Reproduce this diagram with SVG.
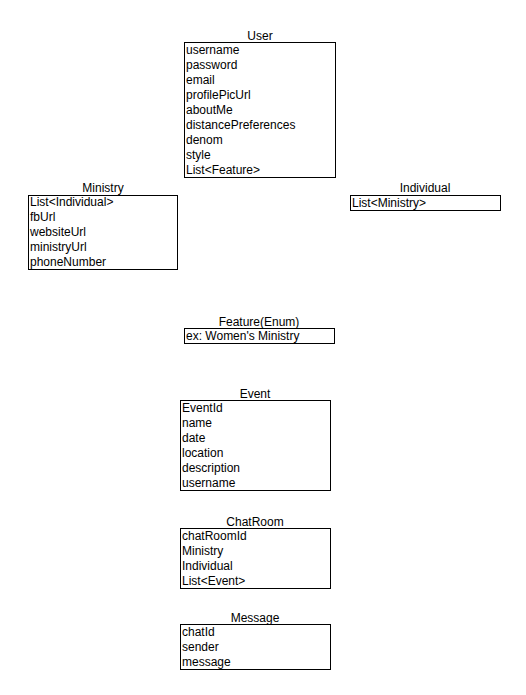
<svg xmlns="http://www.w3.org/2000/svg" width="526" height="695" viewBox="0 0 526 695">
<style>
rect.box{fill:#fff;stroke:#000;stroke-width:1}
text{font-family:"Liberation Sans",Arial,sans-serif;font-size:12px;fill:#000}
text.t{text-anchor:middle}
</style>
<rect width="526" height="695" fill="#fff"/>
<g id="connectors"></g>
<g id="user">
<text class="t" x="260" y="40">User</text>
<rect class="box" x="184.5" y="42.5" width="151" height="135"/>
<text x="186" y="54">username</text>
<text x="186" y="69">password</text>
<text x="186" y="84">email</text>
<text x="186" y="99">profilePicUrl</text>
<text x="186" y="114">aboutMe</text>
<text x="186" y="129">distancePreferences</text>
<text x="186" y="144">denom</text>
<text x="186" y="159">style</text>
<text x="186" y="174">List&lt;Feature&gt;</text>
</g>
<g id="ministry">
<text class="t" x="103" y="192">Ministry</text>
<rect class="box" x="28.5" y="195.5" width="149" height="74"/>
<text x="30" y="206">List&lt;Individual&gt;</text>
<text x="30" y="221">fbUrl</text>
<text x="30" y="236">websiteUrl</text>
<text x="30" y="251">ministryUrl</text>
<text x="30" y="266">phoneNumber</text>
</g>
<g id="individual">
<text class="t" x="425" y="192">Individual</text>
<rect class="box" x="350.5" y="195.5" width="150" height="15"/>
<text x="352" y="207">List&lt;Ministry&gt;</text>
</g>
<g id="feature">
<text class="t" x="259" y="326">Feature(Enum)</text>
<rect class="box" x="184.5" y="328.5" width="150" height="15"/>
<text x="186" y="340">ex: Women's Ministry</text>
</g>
<g id="event">
<text class="t" x="255" y="398">Event</text>
<rect class="box" x="180.5" y="400.5" width="150" height="90"/>
<text x="182" y="412">EventId</text>
<text x="182" y="427">name</text>
<text x="182" y="442">date</text>
<text x="182" y="457">location</text>
<text x="182" y="472">description</text>
<text x="182" y="487">username</text>
</g>
<g id="chatroom">
<text class="t" x="255" y="526">ChatRoom</text>
<rect class="box" x="180.5" y="528.5" width="150" height="60"/>
<text x="182" y="540">chatRoomId</text>
<text x="182" y="555">Ministry</text>
<text x="182" y="570">Individual</text>
<text x="182" y="585">List&lt;Event&gt;</text>
</g>
<g id="message">
<text class="t" x="255" y="622">Message</text>
<rect class="box" x="180.5" y="624.5" width="150" height="45"/>
<text x="182" y="636">chatId</text>
<text x="182" y="651">sender</text>
<text x="182" y="666">message</text>
</g>
</svg>
